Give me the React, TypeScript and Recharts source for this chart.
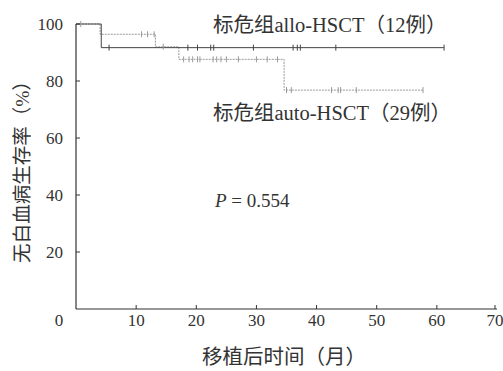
import React from "react";
import {
  ComposedChart,
  Line,
  Scatter,
  XAxis,
  YAxis,
  Customized,
} from "recharts";

// Kaplan-Meier steps (time in months, survival %)
const alloSteps = [
  { t: 0, s: 100 },
  { t: 4.2, s: 91.7 },
  { t: 61.2, s: 91.7 },
];
const autoSteps = [
  { t: 0, s: 100 },
  { t: 4.0, s: 96.4 },
  { t: 13.2, s: 92.0 },
  { t: 17.1, s: 87.6 },
  { t: 34.6, s: 76.8 },
  { t: 57.7, s: 76.8 },
];

// censored times
const alloCensored = [5.5, 18.6, 20.2, 22.4, 22.9, 29.5, 36.1, 36.8, 37.3, 43.2, 61.2];
const autoCensored = [
  0.8, 10.9, 11.9, 13.0, 14.5, 17.9, 18.8, 19.4, 20.2, 20.6, 22.8, 23.4, 24.1,
  25.0, 27.0, 30.0, 31.8, 33.5, 35.0, 35.8, 42.5, 43.6, 44.0, 46.6, 57.7,
];

const xTicks = [10, 20, 30, 40, 50, 60, 70];
const yTicks = [0, 20, 40, 60, 80, 100];

const FONT = "'Liberation Serif', 'Noto Sans CJK SC', serif";
const AXIS = "#333";
const ALLO = "#444";
const AUTO = "#9a9a9a";
const TEXT = "#333";

function survivalAt(steps: { t: number; s: number }[], t: number) {
  let s = steps[0].s;
  for (const p of steps) if (p.t <= t) s = p.s;
  return s;
}

const alloMarks = alloCensored.map((t) => ({ t, s: survivalAt(alloSteps, t) }));
const autoMarks = autoCensored.map((t) => ({ t, s: survivalAt(autoSteps, t) }));

const censorShape = (color: string) => (props: any) => {
  const { cx, cy } = props;
  return <line x1={cx} x2={cx} y1={cy - 3} y2={cy + 3} stroke={color} strokeWidth={1} />;
};

const XTick = (props: any) => {
  const { x, y, payload } = props;
  return (
    <g>
      <line x1={x} x2={x} y1={y} y2={y - 4} stroke={AXIS} />
      <text x={x} y={y + 11} textAnchor="middle" dominantBaseline="central" fontSize={17} fill={TEXT} fontFamily={FONT}>
        {payload.value}
      </text>
    </g>
  );
};

const YTick = (props: any) => {
  const { x, y, payload } = props;
  if (payload.value === 0) {
    return (
      <text x={x - 17} y={y + 11} textAnchor="middle" dominantBaseline="central" fontSize={17} fill={TEXT} fontFamily={FONT}>
        0
      </text>
    );
  }
  return (
    <g>
      <line x1={x} x2={x + 4} y1={y} y2={y} stroke={AXIS} />
      <text x={x - 13} y={y} textAnchor="end" dominantBaseline="central" fontSize={17} fill={TEXT} fontFamily={FONT}>
        {payload.value}
      </text>
    </g>
  );
};

const Notes = () => (
  <g fontFamily={FONT} fill={TEXT}>
    <text x={213} y={25} fontSize={20.5} dominantBaseline="central">
      标危组allo-HSCT（12例）
    </text>
    <text x={213} y={113} fontSize={20.5} dominantBaseline="central">
      标危组auto-HSCT（29例）
    </text>
    <text x={215} y={200} fontSize={19} dominantBaseline="central">
      <tspan fontStyle="italic">P</tspan> = 0.554
    </text>
    <text x={284} y={357} fontSize={20.5} textAnchor="middle" dominantBaseline="central">
      移植后时间（月）
    </text>
    <text
      x={22}
      y={167}
      fontSize={19.5}
      textAnchor="middle"
      dominantBaseline="central"
      transform="rotate(-90 22 167)"
    >
      无白血病生存率（%）
    </text>
  </g>
);

export default function App() {
  return (
    <div style={{ position: "absolute", left: 0, top: 0, background: "#fff" }}>
      <ComposedChart width={503} height={371} margin={{ top: 24, right: 6, bottom: 0, left: 0 }}>
        <XAxis
          type="number"
          dataKey="t"
          domain={[0, 70]}
          ticks={xTicks}
          height={62}
          tickSize={0}
          tickMargin={0}
          tickLine={false}
          tick={<XTick />}
          stroke={AXIS}
          strokeWidth={1.2}
          allowDataOverflow
        />
        <YAxis
          type="number"
          dataKey="s"
          domain={[0, 100]}
          ticks={yTicks}
          width={76}
          tickSize={0}
          tickMargin={0}
          tickLine={false}
          tick={<YTick />}
          stroke={AXIS}
          strokeWidth={1.2}
        />
        <Line
          data={autoSteps}
          dataKey="s"
          type="stepAfter"
          stroke={AUTO}
          strokeWidth={1}
          strokeDasharray="2 1"
          dot={false}
          isAnimationActive={false}
        />
        <Line
          data={alloSteps}
          dataKey="s"
          type="stepAfter"
          stroke={ALLO}
          strokeWidth={1}
          dot={false}
          isAnimationActive={false}
        />
        <Scatter data={autoMarks} dataKey="s" shape={censorShape(AUTO)} isAnimationActive={false} />
        <Scatter data={alloMarks} dataKey="s" shape={censorShape(ALLO)} isAnimationActive={false} />
        <Customized component={Notes} />
      </ComposedChart>
    </div>
  );
}
